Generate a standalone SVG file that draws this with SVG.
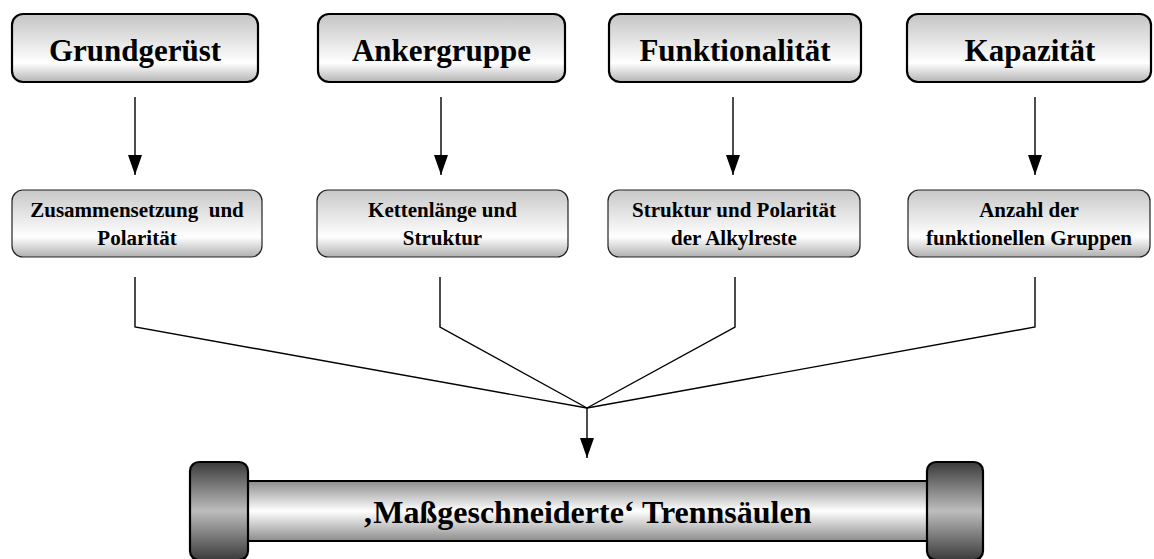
<svg xmlns="http://www.w3.org/2000/svg" width="1154" height="559" viewBox="0 0 1154 559">
<defs>
<style>
text{font-family:'Liberation Serif','Times New Roman',Times,serif;font-weight:700;fill:#000;text-anchor:middle}
.big{font-size:31px}
.mid{font-size:21px;white-space:pre}
.col{font-size:32px}
.top{fill:url(#gTop);stroke:#000;stroke-width:2.2}
.sub{fill:url(#gSub);stroke:#222;stroke-width:1.2}
.ln{fill:none;stroke:#000;stroke-width:1.4}
</style>
<linearGradient id="gTop" x1="0" y1="0" x2="0" y2="1">
<stop offset="0" stop-color="#c4c4c4"/>
<stop offset="0.72" stop-color="#ffffff"/>
<stop offset="1" stop-color="#b4b4b4"/>
</linearGradient>
<linearGradient id="gSub" x1="0" y1="0" x2="0" y2="1">
<stop offset="0" stop-color="#c8c8c8"/>
<stop offset="0.7" stop-color="#ffffff"/>
<stop offset="1" stop-color="#b0b0b0"/>
</linearGradient>
<linearGradient id="gBody" x1="0" y1="0" x2="0" y2="1">
<stop offset="0" stop-color="#8c8c8c"/>
<stop offset="0.5" stop-color="#ffffff"/>
<stop offset="1" stop-color="#8c8c8c"/>
</linearGradient>
<linearGradient id="gCap" x1="0" y1="0" x2="0" y2="1">
<stop offset="0" stop-color="#3a3a3a"/>
<stop offset="0.5" stop-color="#bdbdbd"/>
<stop offset="1" stop-color="#3a3a3a"/>
</linearGradient>
<marker id="arr2" viewBox="0 0 20 14" refX="20" refY="7" markerWidth="20" markerHeight="14" markerUnits="userSpaceOnUse" orient="auto">
<path d="M0,0 L20,7 L0,14 z" fill="#000"/>
</marker>
</defs>

<g id="n-grundgeruest"><rect class="top" x="12" y="14" width="246" height="68" rx="11"/><text class="big" font-family="Liberation Serif, serif" x="135" y="61">Grundgerüst</text></g>
<g id="n-ankergruppe"><rect class="top" x="318" y="14" width="247" height="68" rx="11"/><text class="big" font-family="Liberation Serif, serif" x="441.5" y="61">Ankergruppe</text></g>
<g id="n-funktionalitaet"><rect class="top" x="609" y="14" width="252" height="68" rx="11"/><text class="big" font-family="Liberation Serif, serif" x="735" y="61">Funktionalität</text></g>
<g id="n-kapazitaet"><rect class="top" x="907" y="14" width="244" height="68" rx="11"/><text class="big" font-family="Liberation Serif, serif" x="1030" y="61">Kapazität</text></g>

<g id="n-zusammensetzung"><rect class="sub" x="12" y="190" width="250" height="67" rx="11"/><text class="mid" font-family="Liberation Serif, serif" x="137" y="217">Zusammensetzung  und</text><text class="mid" font-family="Liberation Serif, serif" x="137" y="245">Polarität</text></g>
<g id="n-kettenlaenge"><rect class="sub" x="317" y="190" width="251" height="67" rx="11"/><text class="mid" font-family="Liberation Serif, serif" x="442.5" y="217">Kettenlänge und</text><text class="mid" font-family="Liberation Serif, serif" x="442.5" y="245">Struktur</text></g>
<g id="n-struktur"><rect class="sub" x="608" y="190" width="252" height="67" rx="11"/><text class="mid" font-family="Liberation Serif, serif" x="734" y="217">Struktur und Polarität</text><text class="mid" font-family="Liberation Serif, serif" x="734" y="245">der Alkylreste</text></g>
<g id="n-anzahl"><rect class="sub" x="908" y="190" width="242" height="67" rx="11"/><text class="mid" font-family="Liberation Serif, serif" x="1029" y="217">Anzahl der</text><text class="mid" font-family="Liberation Serif, serif" x="1029" y="245">funktionellen Gruppen</text></g>

<g id="connectors">
<line class="ln" x1="135" y1="97" x2="135" y2="175" marker-end="url(#arr2)"/>
<line class="ln" x1="441" y1="97" x2="441" y2="175" marker-end="url(#arr2)"/>
<line class="ln" x1="733" y1="97" x2="733" y2="175" marker-end="url(#arr2)"/>
<line class="ln" x1="1035" y1="97" x2="1035" y2="175" marker-end="url(#arr2)"/>
<polyline class="ln" points="135,277 135,327 587,408"/>
<polyline class="ln" points="440,277 440,327 587,408"/>
<polyline class="ln" points="735,277 735,327 587,408"/>
<polyline class="ln" points="1035,277 1035,327 587,408"/>
<line class="ln" x1="587" y1="408" x2="587" y2="458" marker-end="url(#arr2)"/>
</g>

<g id="n-trennsaeulen">
<rect x="240" y="481" width="695" height="60" fill="url(#gBody)" stroke="#000" stroke-width="2"/>
<rect x="190" y="462" width="58" height="98" rx="9" fill="url(#gCap)" stroke="#000" stroke-width="2.2"/>
<rect x="927" y="462" width="56" height="98" rx="9" fill="url(#gCap)" stroke="#000" stroke-width="2.2"/>
<text class="col" font-family="Liberation Serif, serif" x="587" y="523">‚Maßgeschneiderte‘ Trennsäulen</text>
</g>
</svg>
